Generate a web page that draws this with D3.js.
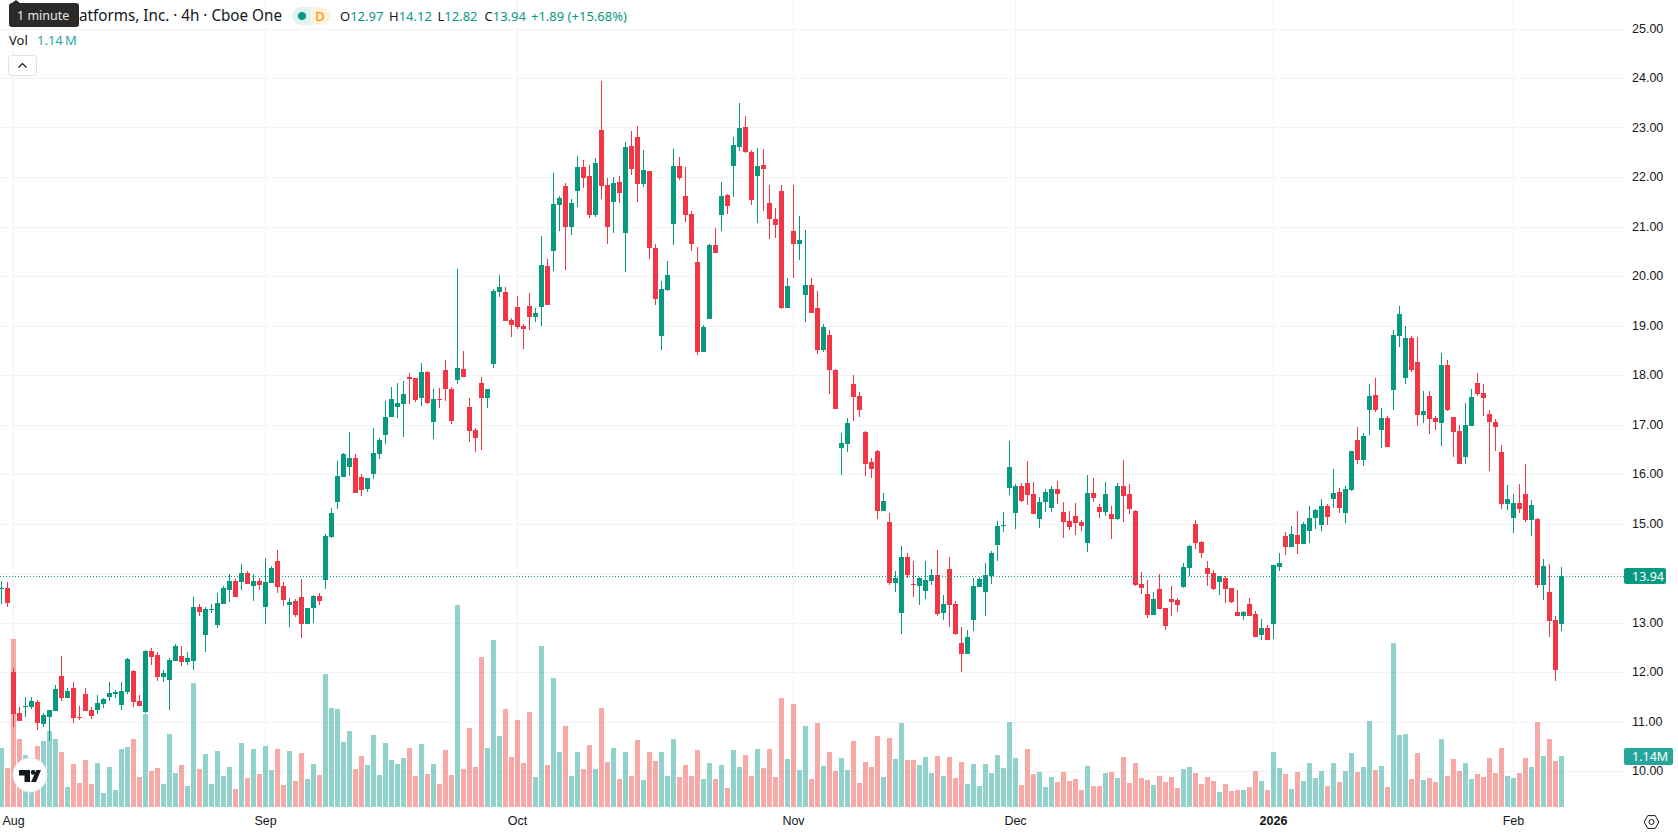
<!DOCTYPE html>
<html>
<head>
<meta charset="utf-8">
<title>Candlestick chart</title>
<script src="https://cdn.jsdelivr.net/npm/d3@7"></script>
<style>
  html, body { margin: 0; padding: 0; background: #fff; overflow: hidden; }
  svg { display: block; font-family: "Noto Sans", sans-serif; }
  .tick text { fill: #131722; font-size: 12.5px; }
</style>
</head>
<body>
<div id="chart"></div>
<script>
// Four-hour bars, oldest first.
const opens = [
13.68,13.70,12.00,11.17,11.29,11.29,11.39,10.95,11.09,11.21,
11.92,11.47,11.68,11.09,11.56,11.23,11.23,11.35,11.50,11.56,
11.33,11.60,12.02,11.41,11.19,12.42,12.34,11.90,11.84,12.22,
12.32,12.20,12.22,13.31,12.75,13.25,12.95,13.37,13.66,13.84,
13.82,14.00,13.74,13.84,13.31,13.80,14.24,13.74,13.35,13.43,
13.52,12.97,13.29,13.54,13.86,14.73,15.43,15.94,16.14,16.32,
15.94,15.70,16.00,16.40,16.79,17.15,17.35,17.41,17.96,17.94,
17.54,18.06,17.05,17.51,18.10,17.72,17.90,18.12,17.35,16.89,
17.84,17.54,18.22,19.68,19.68,19.11,19.37,18.99,19.39,19.17,
19.37,20.20,20.50,21.43,21.82,20.99,21.72,22.20,22.02,21.23,
22.95,21.84,21.50,21.90,20.87,22.63,22.81,21.86,22.12,20.57,
18.79,19.72,21.05,22.22,21.62,21.25,20.28,18.46,19.13,20.63,
21.23,21.64,22.22,22.61,23.01,22.50,22.02,22.24,21.48,21.15,
21.72,19.35,20.91,20.65,19.62,19.82,19.35,18.50,18.81,18.10,
16.52,16.61,17.82,17.58,16.85,16.24,16.46,15.25,15.03,13.80,
13.19,14.32,13.78,13.74,13.64,13.84,13.96,13.19,14.08,13.37,
12.59,12.36,13.05,13.72,13.62,13.94,14.56,14.95,15.72,15.21,
15.76,15.82,15.60,15.09,15.43,15.31,15.70,15.23,15.05,15.15,
15.03,14.61,15.62,15.33,15.23,15.19,15.09,15.76,15.60,15.25,
13.78,13.58,13.15,13.68,13.29,13.47,13.45,13.72,14.10,14.99,
14.63,14.10,14.00,13.82,13.90,13.70,13.21,13.13,13.37,13.17,
12.75,12.89,12.97,14.12,14.75,14.53,14.77,14.59,14.85,15.11,
14.97,15.35,15.49,15.64,15.21,15.68,16.69,16.28,17.29,17.60,
16.89,17.13,17.70,18.79,17.94,18.75,18.26,17.19,17.58,17.13,
17.03,18.20,17.15,16.87,16.34,16.97,17.84,17.64,17.21,17.05,
16.44,15.39,15.11,15.41,15.60,15.07,15.09,13.76,13.62,13.05,12.97];

const closes = [
13.70,13.39,11.15,11.01,11.31,11.41,10.97,11.13,11.23,11.66,
11.47,11.62,11.07,11.07,11.21,11.11,11.37,11.45,11.58,11.60,
11.62,12.26,11.39,11.31,12.42,12.30,11.90,11.98,12.24,12.53,
12.20,12.28,13.31,13.21,13.27,13.27,13.39,13.70,13.84,13.52,
14.00,13.78,13.84,13.76,13.82,14.10,13.72,13.45,13.41,13.15,
12.97,13.29,13.54,13.43,14.75,15.21,15.96,16.40,16.32,15.62,
15.68,15.92,16.42,16.69,17.15,17.51,17.43,17.62,17.92,17.49,
18.06,17.43,17.51,17.49,17.72,17.07,18.14,17.96,16.87,16.73,
17.54,17.72,19.70,19.78,19.09,19.01,18.97,18.93,19.17,19.25,
20.22,19.41,21.45,21.58,20.99,21.48,22.20,21.98,21.23,22.28,
21.82,20.99,21.88,21.68,22.61,22.16,21.86,22.14,20.57,19.54,
19.74,20.02,22.22,21.98,21.23,20.65,18.46,18.97,20.63,20.46,
21.62,21.41,22.65,22.99,22.50,21.54,22.22,22.16,21.15,21.03,
19.35,19.80,20.65,20.73,19.82,19.25,18.50,18.97,18.10,17.31,
16.63,17.03,17.55,17.29,16.20,16.10,15.25,15.45,13.80,13.90,
14.32,13.96,13.76,13.90,13.86,13.96,13.17,13.37,13.35,12.77,
12.36,12.71,13.74,13.88,13.96,14.40,14.95,14.97,16.14,15.76,
15.45,15.58,15.19,15.43,15.64,15.70,15.60,15.03,14.93,15.01,
14.95,15.62,15.52,15.23,15.60,15.09,15.76,15.56,15.29,13.76,
13.70,13.15,13.47,13.27,12.93,13.41,13.35,14.12,14.55,14.61,
14.40,13.98,13.68,13.94,13.68,13.41,13.13,13.21,13.13,12.71,
12.89,12.65,14.16,14.20,14.53,14.79,14.59,14.99,15.11,15.27,
15.35,15.13,15.62,15.31,15.70,16.46,16.28,16.77,17.58,17.29,
17.13,16.55,18.81,19.23,18.75,18.10,17.19,17.27,17.11,17.05,
18.20,17.29,16.85,16.20,16.99,17.56,17.62,17.54,17.05,16.95,
15.39,15.49,15.41,15.29,15.07,15.37,13.76,14.14,13.03,12.04,13.94];

const highs = [
13.84,13.82,12.08,11.29,11.50,11.50,11.44,11.17,11.23,11.74,
12.32,11.68,11.80,11.31,11.68,11.29,11.54,11.47,11.80,11.64,
11.80,12.28,12.04,11.54,12.44,12.49,12.40,12.04,12.28,12.57,
12.53,12.40,13.52,13.37,13.31,13.37,13.60,13.74,13.98,13.88,
14.18,14.04,13.98,13.90,14.30,14.14,14.46,13.82,13.50,13.47,
13.88,13.29,13.56,13.60,14.79,15.31,16.26,16.42,16.85,16.40,
16.00,15.92,16.93,16.73,17.47,17.76,17.84,17.88,18.04,17.94,
18.24,18.08,17.72,17.74,18.30,17.76,20.14,18.48,17.54,16.93,
17.96,17.72,19.74,20.02,19.78,19.15,19.60,19.03,19.66,19.35,
20.81,20.34,22.08,21.62,21.88,21.56,22.42,22.34,22.24,22.38,
23.94,21.98,22.00,22.02,22.71,22.93,23.03,22.55,22.12,20.65,
19.90,20.30,22.57,22.40,22.20,21.31,20.59,19.01,20.65,20.97,
21.90,21.66,22.81,23.50,23.23,22.55,22.59,22.57,21.84,21.37,
21.84,19.96,21.84,21.21,20.93,19.96,19.70,19.03,18.91,18.12,
16.83,17.13,18.00,17.66,16.87,16.32,16.48,15.62,15.21,14.04,
14.54,14.40,14.24,13.92,14.24,14.08,14.46,13.55,14.32,13.43,
12.91,12.85,13.90,13.92,14.20,14.44,15.05,15.23,16.67,15.80,
15.82,16.26,15.84,15.53,15.70,15.76,15.86,15.43,15.25,15.41,
15.07,15.98,15.92,15.39,15.84,15.35,15.82,16.28,15.80,15.27,
14.02,13.86,13.62,13.98,13.29,13.74,13.49,14.20,14.57,15.07,
14.65,14.24,14.06,13.94,13.94,13.70,13.66,13.23,13.49,13.23,
13.07,12.95,14.16,14.40,14.83,14.95,15.25,15.03,15.35,15.29,
15.49,15.39,16.10,15.72,15.76,16.46,16.95,16.83,17.82,17.94,
17.33,17.17,18.91,19.39,18.99,18.79,18.77,17.68,17.68,17.17,
18.44,18.30,17.15,16.99,17.43,17.72,18.04,17.82,17.29,17.11,
16.59,15.78,15.60,15.80,16.20,15.47,15.11,14.28,14.18,13.13,14.12];

const lows = [
13.38,13.31,10.89,11.01,11.09,11.25,10.83,10.89,10.61,11.21,
11.41,11.47,10.97,11.03,11.21,11.05,11.15,11.27,11.41,11.47,
11.23,11.56,11.29,11.31,11.17,12.14,11.82,11.80,11.23,12.22,
12.12,12.14,12.04,13.13,12.40,13.19,12.89,13.37,13.41,13.52,
13.66,13.78,13.43,13.66,12.97,13.80,13.60,13.33,12.91,13.11,
12.69,12.97,12.99,13.35,13.68,14.71,15.29,15.94,15.96,15.62,
15.56,15.64,15.90,16.30,16.61,17.15,17.13,16.75,17.41,17.45,
17.37,17.41,16.71,17.33,17.47,17.01,17.82,17.96,16.65,16.44,
16.48,17.33,18.14,19.58,19.09,18.77,18.93,18.53,18.91,19.07,
18.99,19.41,20.10,20.91,20.12,20.83,21.39,21.78,21.17,21.19,
21.56,20.65,20.87,21.48,20.08,22.04,21.50,21.80,20.34,19.41,
18.50,19.70,20.63,21.94,21.09,20.50,18.40,18.46,19.13,20.46,
20.91,21.25,21.60,22.52,22.48,21.43,21.07,21.31,20.75,20.77,
19.33,19.35,19.96,20.32,19.07,19.25,18.42,18.46,17.62,17.31,
15.98,16.44,17.07,17.15,15.96,15.92,15.09,15.25,13.76,13.62,
12.77,13.90,13.51,13.35,13.47,13.76,13.13,13.05,12.91,12.75,
12.00,12.36,12.83,13.72,13.13,13.78,14.24,14.83,15.58,14.89,
15.43,15.37,15.19,14.91,15.23,15.23,15.39,14.71,14.87,14.77,
14.85,14.42,15.43,15.11,15.15,14.69,15.07,15.03,15.19,13.74,
13.58,13.09,13.15,13.27,12.85,13.13,13.21,13.70,13.94,14.48,
14.30,13.74,13.66,13.55,13.39,13.39,13.13,13.05,13.13,12.71,
12.65,12.65,12.67,14.04,14.36,14.53,14.38,14.59,14.61,14.89,
14.85,14.97,15.31,15.21,15.01,15.66,16.20,16.16,16.79,17.25,
16.53,16.55,17.29,18.57,17.82,18.06,16.97,17.03,16.81,16.89,
16.57,17.27,16.34,16.20,16.20,16.97,17.58,17.17,16.06,16.46,
15.29,15.27,14.81,15.21,15.03,14.75,13.70,13.45,12.71,11.82,12.82];

// Volume per bar, in millions of shares.
const volumes = [
1.32,0.87,3.76,1.52,1.16,0.75,1.36,1.48,1.70,1.52,
1.23,0.45,0.96,0.54,1.05,0.51,0.98,0.31,0.89,0.38,
1.30,1.34,1.52,0.67,2.08,0.80,0.87,0.51,1.63,0.76,
0.94,0.47,2.77,0.85,1.18,0.51,1.25,0.69,0.89,0.40,
1.43,0.65,1.30,0.74,1.36,0.83,1.30,0.49,1.25,0.58,
1.20,0.62,0.95,0.71,2.97,2.21,2.18,1.45,1.69,0.86,
1.13,0.93,1.60,0.71,1.42,1.04,0.95,1.09,1.31,0.69,
1.40,0.73,0.95,0.51,1.27,0.71,4.51,0.86,1.76,0.89,
3.35,1.31,3.73,1.58,2.18,1.11,1.94,0.98,2.12,0.66,
3.59,0.93,2.88,1.22,1.80,0.69,1.22,0.86,1.38,0.86,
2.21,1.00,1.31,0.62,1.22,0.69,1.49,0.60,1.22,1.02,
1.24,0.69,1.51,0.66,0.94,0.69,1.27,0.63,0.98,0.63,
0.94,0.42,1.27,0.89,1.16,0.69,1.30,0.87,1.30,0.67,
2.44,1.07,2.30,0.83,1.81,0.63,1.88,0.92,1.23,0.80,
1.10,0.83,1.48,0.54,1.01,0.89,1.59,0.67,1.54,1.07,
1.88,1.05,1.05,0.94,1.12,0.76,1.14,0.69,1.12,0.65,
1.01,0.51,0.96,0.47,0.96,0.76,1.16,0.87,1.90,1.10,
0.49,1.30,0.74,0.78,0.45,0.67,0.56,0.78,0.58,0.63,
0.38,0.92,0.47,0.47,0.76,0.78,0.65,1.12,0.54,0.98,
0.65,0.60,0.49,0.69,0.56,0.67,0.42,0.85,0.89,0.76,
0.51,0.67,0.58,0.34,0.51,0.36,0.38,0.38,0.45,0.80,
0.58,0.38,1.23,0.87,0.74,0.40,0.78,0.58,0.98,0.65,
0.80,0.47,0.98,0.56,0.80,1.21,0.78,0.89,1.92,0.83,
0.92,0.45,3.67,1.61,1.63,0.63,1.21,0.60,0.65,0.56,
1.52,0.69,1.07,0.80,0.98,0.63,0.74,0.67,1.10,0.76,
1.32,0.69,0.65,0.76,1.10,0.89,1.90,1.14,1.52,1.03,1.14];

const priceTicks = [10,11,12,13,14,15,16,17,18,19,20,21,22,23,24,25];
const timeTickBars = [2,44,86,132,169,212,252];
const timeTickLabels = ["Aug","Sep","Oct","Nov","Dec","2026","Feb"];
const lastClose = closes[closes.length - 1];
const lastVolume = volumes[volumes.length - 1];
const changeLabel = "+1.89 (+15.68%)";

const UP = "#089981", DOWN = "#f23645";
const VOL_UP = "rgba(38,166,154,0.5)", VOL_DOWN = "rgba(239,83,80,0.5)";
const GRID = "#f2f3f5";
const WIDTH = 1678, HEIGHT = 835, PANE_RIGHT = 1624, PANE_BOTTOM = 812;

const bars = d3.range(closes.length);
const x = d3.scaleLinear().domain([0, closes.length - 1]).range([1.5, 1561.5]);
const y = d3.scaleLinear().domain([10, 25]).range([771, 28.5]);
const yVol = d3.scaleLinear().domain([0, 5]).range([807, 583.3]);
const px = v => Math.round(v);
const isUp = i => closes[i] >= opens[i];

const svg = d3.select("#chart").append("svg").attr("width", WIDTH).attr("height", HEIGHT);

// Grid
const grid = svg.append("g").attr("shape-rendering", "crispEdges").attr("fill", GRID);
grid.selectAll(".h").data(priceTicks).join("rect").attr("class", "h")
  .attr("x", 0).attr("width", PANE_RIGHT).attr("y", d => px(y(d))).attr("height", 1);
grid.selectAll(".v").data(timeTickBars).join("rect").attr("class", "v")
  .attr("x", d => x(d) - 0.5).attr("width", 1).attr("y", 0).attr("height", PANE_BOTTOM);

// Volume histogram
svg.append("g").attr("shape-rendering", "crispEdges").selectAll("rect").data(bars).join("rect")
  .attr("x", i => x(i) - 2.5).attr("width", 5)
  .attr("y", i => px(yVol(volumes[i])))
  .attr("height", i => yVol(0) - px(yVol(volumes[i])))
  .attr("fill", i => isUp(i) ? VOL_UP : VOL_DOWN);

// Candles: wick first, then body
const candles = svg.append("g").attr("shape-rendering", "crispEdges");
candles.selectAll(".wick").data(bars).join("rect").attr("class", "wick")
  .attr("x", i => x(i) - 0.5).attr("width", 1)
  .attr("y", i => px(y(highs[i])))
  .attr("height", i => Math.max(1, px(y(lows[i])) - px(y(highs[i]))))
  .attr("fill", i => isUp(i) ? UP : DOWN);
candles.selectAll(".body").data(bars).join("rect").attr("class", "body")
  .attr("x", i => x(i) - 2.5).attr("width", 5)
  .attr("y", i => px(y(Math.max(opens[i], closes[i]))))
  .attr("height", i => Math.max(1, px(y(Math.min(opens[i], closes[i]))) - px(y(Math.max(opens[i], closes[i])))))
  .attr("fill", i => isUp(i) ? UP : DOWN);

// Last price line
svg.append("line")
  .attr("x1", 0).attr("x2", PANE_RIGHT)
  .attr("y1", px(y(lastClose)) + 0.5).attr("y2", px(y(lastClose)) + 0.5)
  .attr("stroke", UP).attr("stroke-width", 1).attr("stroke-dasharray", "1 2")
  .attr("shape-rendering", "crispEdges");

// Price axis; a tick that would sit under the last-price flag gives way to it
const yAxis = svg.append("g").attr("transform", "translate(1624,0)")
  .call(d3.axisRight(y).tickValues(priceTicks).tickFormat(d3.format(".2f")).tickSize(0).tickPadding(8).offset(0));
yAxis.select(".domain").remove();
yAxis.selectAll(".tick").filter(d => Math.abs(y(d) - y(lastClose)) < 14).remove();

// Time axis
const xAxis = svg.append("g").attr("transform", "translate(0,813)")
  .call(d3.axisBottom(x).tickValues(timeTickBars)
    .tickFormat((d, i) => timeTickLabels[i]).tickSize(0).tickPadding(3).offset(0));
xAxis.select(".domain").remove();
xAxis.selectAll(".tick text").attr("font-weight", (d, i) => timeTickLabels[i] === "2026" ? 700 : 400);

// Axis value flags
function flag(top, w, h, colour, label) {
  svg.append("rect").attr("x", 1624).attr("y", top).attr("width", w).attr("height", h).attr("rx", 2).attr("fill", colour);
  svg.append("text").attr("x", 1632).attr("y", top + h / 2 + 4.5)
    .attr("fill", "#fff").attr("font-size", 12.5).text(label);
}
flag(px(y(lastClose)) - 8, 42, 16, UP, d3.format(".2f")(lastClose));
flag(px(yVol(lastVolume)) - 8, 49, 17, "#26a69a", d3.format(".2f")(lastVolume) + "M");

// Legend header
const head = svg.append("g").attr("font-size", 13);
head.append("text").attr("x", 79).attr("y", 21).attr("textLength", 203).attr("lengthAdjust", "spacingAndGlyphs")
  .attr("font-size", 16).attr("fill", "#131722").text("atforms, Inc. · 4h · Cboe One");
head.append("path").attr("d", "M301,7 h10 v18 h-10 a9,9 0 0 1 0,-18 z").attr("fill", "#dff3ef");
head.append("path").attr("d", "M311,7 h11 a9,9 0 0 1 0,18 h-11 z").attr("fill", "#fff3e0");
head.append("circle").attr("cx", 302).attr("cy", 16).attr("r", 4).attr("fill", UP);
head.append("text").attr("x", 320).attr("y", 20.5).attr("text-anchor", "middle")
  .attr("fill", "#ff9800").attr("font-weight", 500).text("D");

const ohlcLabels = ["O", "H", "L", "C"];
const ohlcValues = [opens, highs, lows, closes].map(s => s[s.length - 1]);
const ohlcX = [340, 389, 437.5, 484.5];
ohlcLabels.forEach((lab, i) => {
  const t = head.append("text").attr("x", ohlcX[i]).attr("y", 20.5).attr("fill", "#131722");
  t.append("tspan").text(lab);
  t.append("tspan").attr("fill", UP).text(d3.format(".2f")(ohlcValues[i]));
});
head.append("text").attr("x", 531).attr("y", 20.5).attr("fill", UP).text(changeLabel);

head.append("text").attr("x", 9).attr("y", 45).attr("fill", "#131722").text("Vol");
head.append("text").attr("x", 37).attr("y", 45).attr("fill", "#26a69a").text(d3.format(".2f")(lastVolume) + "\u2009M");

// Collapse button
head.append("rect").attr("x", 8.5).attr("y", 55.5).attr("width", 28).attr("height", 20).attr("rx", 3)
  .attr("fill", "#fff").attr("stroke", "#e0e3eb");
head.append("path").attr("d", "M18.5,67.5 l4,-4 l4,4").attr("fill", "none").attr("stroke", "#131722").attr("stroke-width", 1.2);

// Hover tooltip on the top-left corner of the legend
head.append("path").attr("d", "M12,3 L16,0 L20,3 H76 a3,3 0 0 1 3,3 V24 a3,3 0 0 1 -3,3 H12 a3,3 0 0 1 -3,-3 V6 a3,3 0 0 1 3,-3 z").attr("fill", "#2a2a2a");
head.append("text").attr("x", 17).attr("y", 20).attr("fill", "#e8e8e8").attr("font-size", 12.5).text("1 minute");

// Logo badge
const logo = svg.append("g");
logo.append("circle").attr("cx", 30).attr("cy", 775).attr("r", 17).attr("fill", "#fff")
  .attr("stroke", "#e9e9ea").attr("stroke-width", 1);
logo.append("path").attr("d", "M19,770 h11 v12 h-5.5 v-6.5 h-5.5 z").attr("fill", "#131722");
logo.append("circle").attr("cx", 33.2).attr("cy", 772.4).attr("r", 2.4).attr("fill", "#131722");
logo.append("path").attr("d", "M36.5,770 h4.5 l-5,12 h-5 z").attr("fill", "#131722");

// Settings icon
const gear = svg.append("g").attr("fill", "none").attr("stroke", "#131722").attr("stroke-width", 1);
gear.append("path").attr("d", "M1647.8,815.6 h7.4 l3.7,6.4 l-3.7,6.4 h-7.4 l-3.7,-6.4 z");
gear.append("circle").attr("cx", 1651.5).attr("cy", 822).attr("r", 2.5);
</script>
</body>
</html>
